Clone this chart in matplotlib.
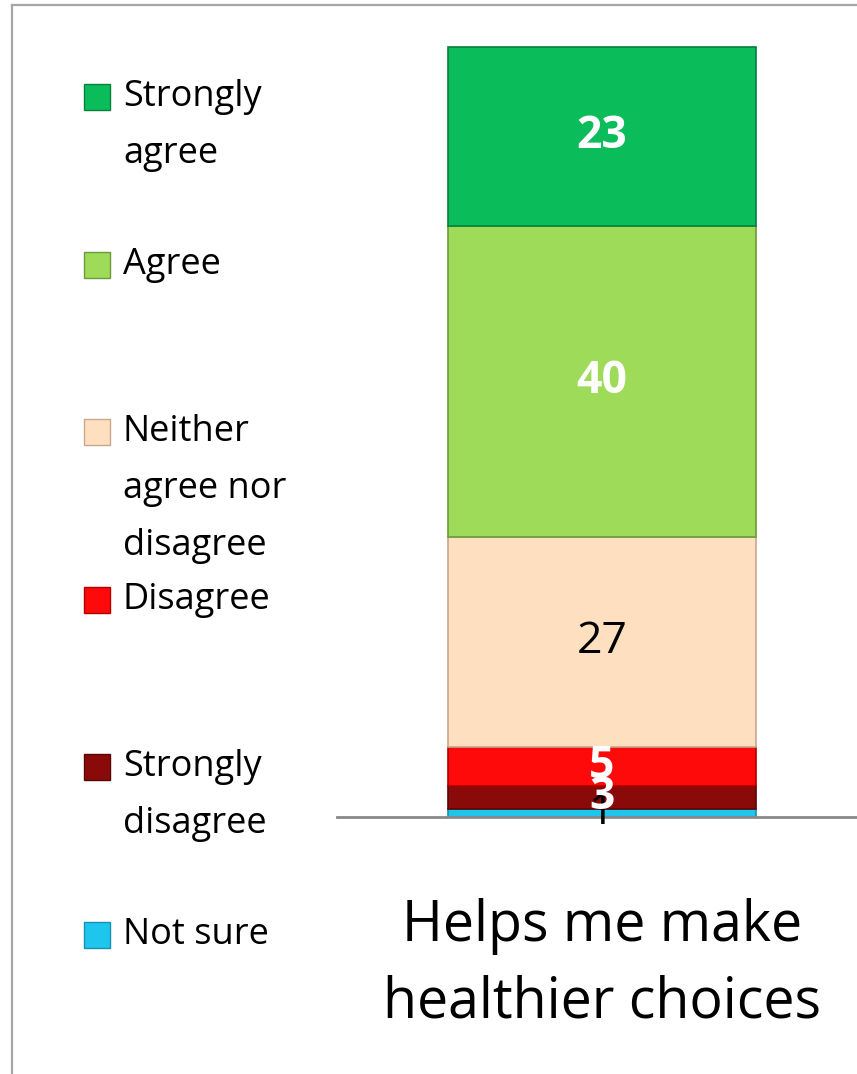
import matplotlib.pyplot as plt
from matplotlib.patches import Rectangle
from matplotlib.lines import Line2D

plt.rcParams['font.family'] = ['Open Sans', 'DejaVu Sans']

# data (bottom to top)
categories = ['Not sure', 'Strongly disagree', 'Disagree',
              'Neither agree nor disagree', 'Agree', 'Strongly agree']
values = [1, 3, 5, 27, 40, 23]
colors = ['#1EC6EE', '#8A0A0A', '#FF0A0A', '#FEE0C0', '#9DDB58', '#0ABD5A']
edges = ['#1590B0', '#5A0505', '#B00000', '#C8A88A', '#6E9A3A', '#06803C']
label_colors = ['black', 'white', 'white', 'black', 'white', 'white']
label_weights = ['normal', 'bold', 'bold', 'normal', 'bold', 'bold']
legend_lines = [['Strongly', 'agree'], ['Agree'], ['Neither', 'agree nor', 'disagree'],
                ['Disagree'], ['Strongly', 'disagree'], ['Not sure']]
bar_label = 'Helps me make\nhealthier choices'

W, H = 857, 1074
fig = plt.figure(figsize=(W / 100, H / 100), dpi=100)

# chart area frame (gray lines left and top)
fig.add_artist(Line2D([12 / W, 12 / W], [0, 1 - 5 / H], color='#A6A6A6', lw=1.6,
                      transform=fig.transFigure))
fig.add_artist(Line2D([12 / W, 1], [1 - 5 / H, 1 - 5 / H], color='#A6A6A6', lw=1.6,
                      transform=fig.transFigure))

ax = fig.add_axes([337 / W, (H - 817) / H, 530 / W, 778 / H])
ax.set_xlim(-0.5, 0.5)
ax.set_ylim(0, 100)

bottom = 0
for v, c, e, lc, lw_ in zip(values, colors, edges, label_colors, label_weights):
    ax.bar(0, v, width=0.58, bottom=bottom, color=c, edgecolor=e, linewidth=1.2)
    ax.text(0, bottom + v / 2, str(v), ha='center', va='center', color=lc,
            fontsize=32, fontweight=lw_)
    bottom += v

for s in ['top', 'right', 'left']:
    ax.spines[s].set_visible(False)
ax.spines['bottom'].set_color('#898989')
ax.spines['bottom'].set_linewidth(2)
ax.set_yticks([])
ax.set_xticks([])
ax.set_facecolor('none')

fig.text(602 / W, 1 - 965 / H, bar_label, ha='center', va='center',
         fontsize=40, linespacing=1.45)

# legend, top entry first
leg_colors = colors[::-1]
leg_edges = edges[::-1]
for i, (lines, c, e) in enumerate(zip(legend_lines, leg_colors, leg_edges)):
    y0 = 97 + i * 167.6
    fig.add_artist(Rectangle((84 / W, 1 - (y0 + 13) / H), 26 / W, 26 / H,
                             facecolor=c, edgecolor=e, lw=1, transform=fig.transFigure))
    for k, t in enumerate(lines):
        fig.text(123 / W, 1 - (y0 + k * 57) / H, t, ha='left', va='center',
                 fontsize=26)

fig.savefig('out.png', dpi=100)
